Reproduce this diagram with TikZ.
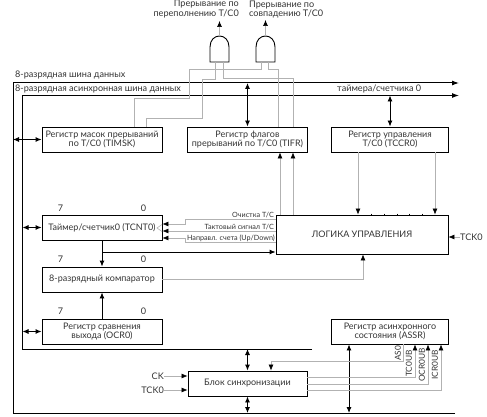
\documentclass[tikz,border=0pt]{standalone}
\usepackage{fontspec}
\setmainfont{Lato}
\usetikzlibrary{arrows.meta,calc}
\tikzset{
  regbox/.style={draw, line width=0.9pt, minimum width=120pt, minimum height=25pt, inner sep=0pt, align=center, font=\fontsize{9}{9.6}\selectfont, text=black!80},
  bus/.style={line width=1pt, -{Latex[length=7pt,width=5pt]}},
  dbl/.style={line width=0.9pt, {Latex[length=6pt,width=5pt]}-{Latex[length=6pt,width=5pt]}},
  sig/.style={gray!60, line width=0.6pt},
  sigin/.style={sig, -{Latex[length=6pt,width=5pt,black]}},
  lbl/.style={inner sep=0pt, font=\fontsize{9.1}{9.6}\selectfont, text=black!80},
  tiny/.style={inner sep=0pt, font=\fontsize{7.2}{7.6}\selectfont, text=black!80},
  vlbl/.style={inner sep=0pt, rotate=90, anchor=east, font=\fontsize{8.3}{9}\selectfont, text=black!80},
  gate/.style={line width=0.9pt, fill=white}
}
\begin{document}
\begin{tikzpicture}[x=1pt,y=-1pt]
  \useasboundingbox (0,0) rectangle (487,417);
  % registers
  \node[regbox] (timsk) at (102,139.5) {Регистр масок прерываний\\по T/C0 (TIMSK)};
  \node[regbox] (tifr) at (247.5,139.5) {Регистр флагов\\прерываний по T/C0 (TIFR)};
  \node[regbox, minimum width=116.5pt] (tccr) at (390,139.5) {Регистр управления\\T/C0 (TCCR0)};
  \node[regbox] (tcnt) at (102,227.5) {Таймер/счетчик0 (TCNT0)};
  \node[regbox] (comp) at (102,279.5) {8-разрядный компаратор};
  \node[regbox] (ocr) at (102,331.5) {Регистр сравнения\\выхода (OCR0)};
  \node[regbox, minimum width=172pt, minimum height=39pt] (logic) at (362,234.5) {ЛОГИКА УПРАВЛЕНИЯ};
  \node[regbox, minimum width=116.5pt] (assr) at (390,331.5) {Регистр асинхронного\\состояния (ASSR)};
  \node[regbox, minimum width=119pt] (sync) at (247.5,383.5) {Блок синхронизации};

  % gates
  \coordinate (gateA) at (219.5,62);
  \coordinate (gateB) at (265.5,62);
  \foreach \g in {gateA,gateB}
    \draw[gate] ($(\g)+(-9.5,0)$) -- ($(\g)+(-9.5,-15)$) .. controls ($(\g)+(-9.5,-22)$) and ($(\g)+(-5,-26)$) .. ($(\g)+(0,-26)$) .. controls ($(\g)+(5,-26)$) and ($(\g)+(9.5,-22)$) .. ($(\g)+(9.5,-15)$) -- ($(\g)+(9.5,0)$) -- cycle;
  \coordinate (outA) at (219.5,21);
  \coordinate (outB) at (265.5,20);
  \draw[sigin] ($(gateA)+(0,-26)$) -- (outA);
  \draw[sigin] ($(gateB)+(0,-26)$) -- (outB);
  \node[lbl, align=right, anchor=east] (irqA) at (239,9) {Прерывание по\\переполнению T/C0};
  \node[lbl, align=left, anchor=west] (irqB) at (249,9.5) {Прерывание по\\совпадению T/C0};

  % buses
  \coordinate (busA) at (459,83);
  \coordinate (busB) at (459,95.5);
  \coordinate (railA) at (13,83);
  \coordinate (railB) at (22.5,95.5);
  \coordinate (botA) at (13,413);
  \coordinate (endA) at (455,413);
  \coordinate (botB) at (22.5,349);
  \coordinate (endB) at (312,349);
  \draw[bus] (endA) -- (botA) -- (railA) -- (busA);
  \draw[bus] (endB) -- (botB) -- (railB) -- (busB);
  \node[lbl, anchor=west] (nameA) at (15,75) {8-разрядная шина данных};
  \node[lbl, anchor=west] (nameB) at (15,89) {8-разрядная асинхронная шина данных};
  \node[lbl, anchor=west] (nameC) at (337,89) {таймера/счетчика 0};

  % links to the buses
  \draw[dbl] (railA |- timsk.west) -- (timsk.west);
  \draw[dbl] (railB |- tcnt.west) -- (tcnt.west);
  \draw[dbl] (railB |- ocr.west) -- (ocr.west);
  \draw[dbl] (railA -| tifr.north) -- (tifr.north);
  \draw[dbl] (railB -| tccr.north) -- (tccr.north);
  \draw[dbl] (botB -| sync.north) -- (sync.north);
  \draw[dbl] (sync.south) -- (botA -| sync.south);
  \draw[dbl] (assr.south -| 349,0) -- (botA -| 349,0);

  % interrupt wires
  \draw[sig] (215,62) -- (215,79) -- (202,79) -- (202,118) -- (146,118) -- (146,0 |- timsk.north);
  \draw[sig] (223,62) -- (223,78) -- (293,78) -- (293,0 |- tifr.north);
  \draw[sig] (261,62) -- (261,69) -- (189,69) -- (189,98) -- (134,98) -- (134,0 |- timsk.north);
  \draw[sig] (268,62) -- (268,69) -- (278,69) -- (278,0 |- tifr.north);

  % bit numbers
  \foreach \r/\y in {tcnt/208,comp/259,ocr/311} {
    \node[lbl] (\r7) at (60.5,\y) {7};
    \node[lbl] (\r0) at (143.5,\y) {0};
  }

  % timer block
  \draw[line width=0.9pt, -{Latex[length=6pt,width=5pt]}] (tcnt.south) -- (comp.north);
  \draw[line width=0.9pt, -{Latex[length=6pt,width=5pt]}] (ocr.north) -- (comp.south);
  \draw[line width=0.9pt, -{Latex[length=6pt,width=5pt]}] (102,252) -- (logic.west |- 0,252);
  \draw[sigin] (logic.west |- 0,219) -- (185,219) -- (185,224) -- (tcnt.east |- 0,224);
  \draw[sigin] (logic.west |- 0,231) -- (tcnt.east |- 0,231);
  \draw[sigin] (logic.west |- 0,242.5) -- (185,242.5) -- (185,238) -- (tcnt.east |- 0,238);
  \draw[sig] (162,224.5) -- (157,228) -- (162,231.5);
  \node[tiny, anchor=south east] (clr) at (274,218) {Очистка T/C};
  \node[tiny, anchor=south east] (clk) at (274,230) {Тактовый сигнал T/C};
  \node[tiny, anchor=south east] (dir) at (275,241.5) {Направл. счета (Up/Down)};
  \draw[sigin] (comp.east) -- (363,279.5) -- (363,0 |- logic.south);

  % logic block
  \draw[sigin] (358,0 |- tccr.south) -- (358,0 |- logic.north);
  \draw[sigin] (435,0 |- tccr.south) -- (435,0 |- logic.north);
  \draw[sigin] (280,0 |- logic.north) -- (280,0 |- tifr.south);
  \draw[sigin] (293,0 |- logic.north) -- (293,0 |- tifr.south);
  \foreach \x in {371,384,397,409,422}
    \draw[line width=0.8pt] (\x,213.5) -- (\x,215);
  \node[lbl, anchor=west] (tcka) at (460,237) {TCK0};
  \draw[sigin] (tcka.west) -- (logic.east |- tcka.west);

  % clock inputs
  \node[lbl, anchor=east] (ck) at (164,376) {CK};
  \node[lbl, anchor=east] (tckb) at (164,390) {TCK0};
  \draw[sigin] (ck.east) -- (sync.west |- ck.east);
  \draw[sigin] (tckb.east) -- (sync.west |- tckb.east);

  % status lines
  \draw[sigin] (403,0 |- assr.south) -- (403,361) -- (271,361) -- (271,0 |- sync.north);
  \draw[sigin] (sync.east |- 0,377) -- (415,377) -- (415,0 |- assr.south);
  \draw[sigin] (sync.east |- 0,384) -- (428,384) -- (428,0 |- assr.south);
  \draw[sigin] (sync.east |- 0,390) -- (441,390) -- (441,0 |- assr.south);
  \node[vlbl] (asz) at (398,345.5) {AS0};
  \node[vlbl] (tcub) at (409,350) {TC0UB};
  \node[vlbl] (ocub) at (422,348) {OCR0UB};
  \node[vlbl] (icub) at (435,350) {ICR0UB};
\end{tikzpicture}
\end{document}
